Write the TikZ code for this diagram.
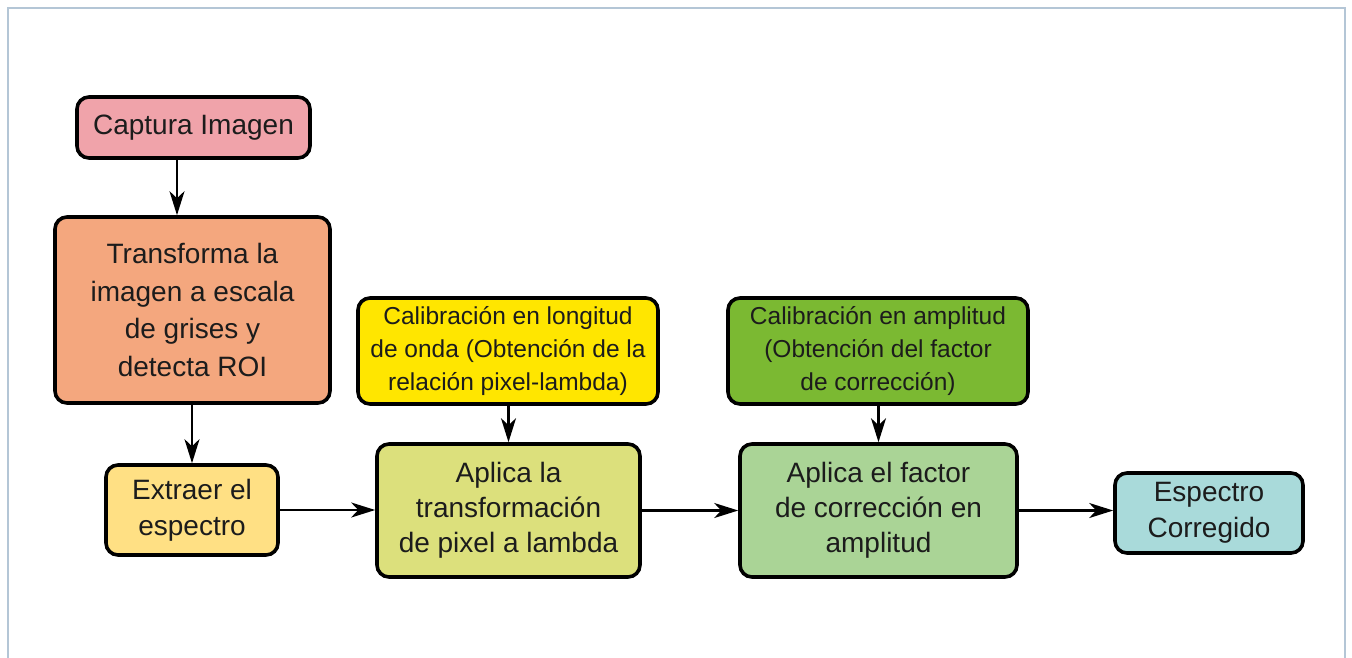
\documentclass[tikz,border=0pt]{standalone}
\usepackage{fontspec}
\setmainfont{Liberation Sans}
\usetikzlibrary{arrows.meta}
\definecolor{cpink}{HTML}{F0A3AA}
\definecolor{corange}{HTML}{F4A77E}
\definecolor{cyel}{HTML}{FFE084}
\definecolor{cyel2}{HTML}{FFE600}
\definecolor{colive}{HTML}{DCE07C}
\definecolor{cgreen}{HTML}{7BB932}
\definecolor{clgreen}{HTML}{AAD496}
\definecolor{cteal}{HTML}{A9DADA}
\definecolor{frame}{HTML}{B4C6D6}
\definecolor{txt}{HTML}{1C1C1C}
\tikzset{
  box/.style={draw=black, line width=3.6pt, rounded corners=12pt, align=center,
    inner sep=0pt, text=txt, font=\fontsize{28}{37}\selectfont},
  small/.style={font=\fontsize{24.5}{33}\selectfont},
  arr/.style={-{Stealth[length=24pt,width=15pt,inset=7pt]}, line width=2.4pt, black}
}
\begin{document}
\begin{tikzpicture}[x=1pt,y=-1pt]
\useasboundingbox (0,0) rectangle (1352,657);
\draw[frame, line width=1.2pt] (8,680) -- (8,8) -- (1345,8) -- (1345,680);
\node[box, fill=cpink, minimum width=233pt, minimum height=61pt] (cap) at (193.5,127.5) {Captura Imagen};
\node[box, fill=corange, minimum width=275pt, minimum height=186pt, font=\fontsize{28}{37.5}\selectfont] (tra) at (192.5,310) {Transforma la\\imagen a escala\\de grises y\\detecta ROI};
\node[box, fill=cyel, minimum width=172pt, minimum height=90pt, font=\fontsize{28}{36}\selectfont] (ext) at (192,510) {Extraer el\\espectro};
\node[box, small, fill=cyel2, minimum width=300pt, minimum height=106pt] (cal) at (508,351) {Calibración en longitud\\de onda (Obtención de la\\relación pixel-lambda)};
\node[box, fill=colive, minimum width=263pt, minimum height=133pt, font=\fontsize{28}{35}\selectfont] (apl) at (508.5,510.5) {Aplica la\\transformación\\de pixel a lambda};
\node[box, small, fill=cgreen, minimum width=300pt, minimum height=106pt] (cam) at (878,351) {Calibración en amplitud\\(Obtención del factor\\de corrección)};
\node[box, fill=clgreen, minimum width=277pt, minimum height=133pt, font=\fontsize{28}{35}\selectfont] (afc) at (878.5,510.5) {Aplica el factor\\de corrección en\\amplitud};
\node[box, fill=cteal, minimum width=188pt, minimum height=80pt, font=\fontsize{28}{36}\selectfont] (esp) at (1209,513) {Espectro\\Corregido};
\coordinate (ax) at (177,0);
\draw[arr] (cap.south -| ax) -- (tra.north -| ax);
\draw[arr] (tra.south -| ext.north) -- (ext.north);
\draw[arr] (ext.east) -- (apl.west |- ext.east);
\draw[arr] (cal.south -| apl.north) -- (apl.north);
\draw[arr] (cam.south -| afc.north) -- (afc.north);
\draw[arr] (apl.east) -- (afc.west);
\draw[arr] (afc.east) -- (esp.west |- afc.east);
\end{tikzpicture}
\end{document}
